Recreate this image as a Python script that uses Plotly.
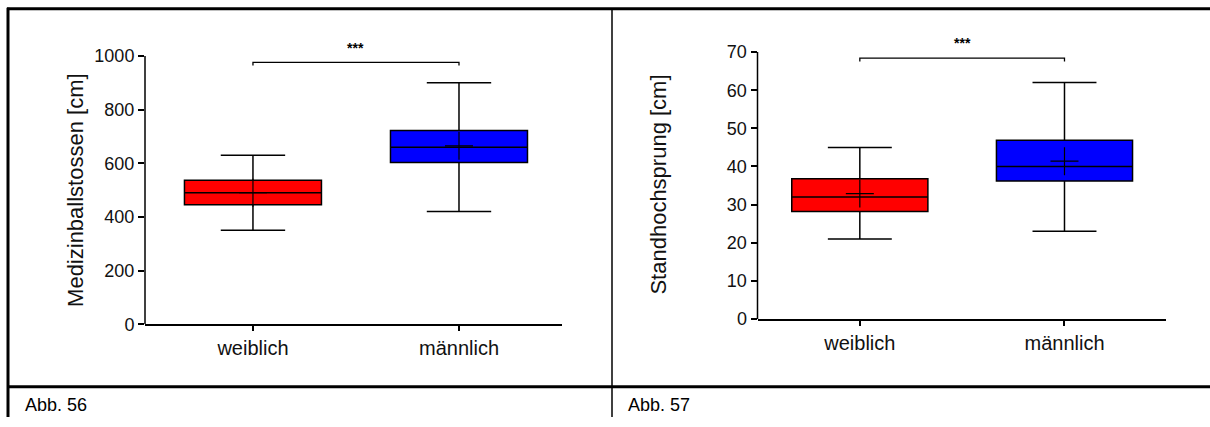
import plotly.graph_objects as go

# Groups shown on the x axis
groups = ["weiblich", "männlich"]
group_pos = [0, 1]
box_colors = ["#ff0000", "#0000ff"]

# Abb. 56 – Medizinballstossen [cm]
mb_q1 = [445, 603]
mb_median = [490, 660]
mb_q3 = [537, 722]
mb_min = [350, 420]
mb_max = [630, 900]
mb_mean = [490, 665]
mb_ticks = [0, 200, 400, 600, 800, 1000]
mb_bracket = 976
mb_star = 1030

# Abb. 57 – Standhochsprung [cm]
sh_q1 = [28.2, 36.2]
sh_median = [32.0, 40.0]
sh_q3 = [36.8, 46.9]
sh_min = [21.0, 23.0]
sh_max = [45.0, 62.0]
sh_mean = [32.9, 41.4]
sh_ticks = [0, 10, 20, 30, 40, 50, 60, 70]
sh_bracket = 68.4
sh_star = 72.3

W, H = 1210, 427
FONT = "Liberation Sans, Arial, sans-serif"


def px(x):
    return x / W


def py(y):
    return 1 - y / H


fig = go.Figure()


def add_panel(xref, yref, q1, med, q3, lo, hi, mean):
    for i in range(len(groups)):
        fig.add_trace(go.Box(
            x=[group_pos[i]], q1=[q1[i]], median=[med[i]], q3=[q3[i]],
            lowerfence=[lo[i]], upperfence=[hi[i]],
            fillcolor=box_colors[i], line=dict(color="black", width=1.5),
            width=0.665, whiskerwidth=0.47, boxpoints=False,
            showlegend=False, xaxis=xref, yaxis=yref, hoverinfo="skip",
        ))
    # mean shown as a plus sign
    fig.add_trace(go.Scatter(
        x=group_pos, y=mean, mode="markers", showlegend=False,
        marker=dict(symbol="cross-thin", size=20, color="black",
                    line=dict(color="black", width=1.2)),
        xaxis=xref, yaxis=yref, hoverinfo="skip",
    ))


add_panel("x", "y", mb_q1, mb_median, mb_q3, mb_min, mb_max, mb_mean)
add_panel("x2", "y2", sh_q1, sh_median, sh_q3, sh_min, sh_max, sh_mean)

xcommon = dict(
    tickvals=group_pos, ticktext=groups, showgrid=False, zeroline=False,
    showline=True, linecolor="black", linewidth=1.5,
    ticks="outside", ticklen=5, tickwidth=1.5, tickcolor="black",
    tickfont=dict(family=FONT, size=20, color="#111"), fixedrange=True,
)
ycommon = dict(
    showgrid=False, zeroline=False, showline=False,
    ticks="outside", ticklen=6, tickwidth=1.5, tickcolor="black",
    tickfont=dict(family=FONT, size=18, color="#111"), fixedrange=True,
)

fig.update_layout(
    width=W, height=H, autosize=False,
    margin=dict(l=0, r=0, t=0, b=0),
    paper_bgcolor="white", plot_bgcolor="white",
    xaxis=dict(domain=[px(145), px(562)], range=[-0.524, 1.5], anchor="y", **xcommon),
    yaxis=dict(domain=[py(332), py(29.8)], range=[0, 1100], anchor="x",
               tickvals=mb_ticks, **ycommon),
    xaxis2=dict(domain=[px(757.5), px(1166)], range=[-0.5, 1.496], anchor="y2", **xcommon),
    yaxis2=dict(domain=[py(326.7), py(29.9)], range=[0, 76], anchor="x2",
                tickvals=sh_ticks, **ycommon),
)

shapes = []
# y axis lines stop at the top tick
shapes.append(dict(type="line", xref="x domain", yref="y", x0=0, x1=0,
                   y0=0, y1=mb_ticks[-1], line=dict(color="black", width=1.5)))
shapes.append(dict(type="line", xref="x2 domain", yref="y2", x0=0, x1=0,
                   y0=0, y1=sh_ticks[-1], line=dict(color="black", width=1.5)))

# significance brackets
for xr, yr, yb, drop in (("x", "y", mb_bracket, 12), ("x2", "y2", sh_bracket, 0.9)):
    shapes.append(dict(type="path", xref=xr, yref=yr,
                       path=f"M {group_pos[0]},{yb - drop} L {group_pos[0]},{yb} "
                            f"L {group_pos[1]},{yb} L {group_pos[1]},{yb - drop}",
                       line=dict(color="black", width=1.3)))

# frame of the figure table
frame = dict(color="black", width=3)
shapes.append(dict(type="line", xref="paper", yref="paper", x0=px(7), x1=1,
                   y0=py(9), y1=py(9), line=frame))
shapes.append(dict(type="line", xref="paper", yref="paper", x0=px(8), x1=px(8),
                   y0=py(8), y1=0, line=frame))
shapes.append(dict(type="line", xref="paper", yref="paper", x0=px(7), x1=1,
                   y0=py(396), y1=py(396), line=frame))
shapes.append(dict(type="line", xref="paper", yref="paper", x0=px(612), x1=px(612),
                   y0=py(9), y1=0, line=dict(color="black", width=1.5)))
fig.update_layout(shapes=shapes)

annotations = [
    dict(text="<b>***</b>", xref="x", yref="y", x=0.5, y=mb_star, showarrow=False,
         font=dict(family=FONT, size=14, color="black")),
    dict(text="<b>***</b>", xref="x2", yref="y2", x=0.5, y=sh_star, showarrow=False,
         font=dict(family=FONT, size=14, color="black")),
    dict(text="Medizinballstossen [cm]", xref="paper", yref="paper",
         x=px(61), y=py(195), textangle=-90, showarrow=False,
         font=dict(family=FONT, size=22, color="#111")),
    dict(text="Standhochsprung [cm]", xref="paper", yref="paper",
         x=px(659), y=py(189), textangle=-90, showarrow=False,
         font=dict(family=FONT, size=22, color="#111")),
    dict(text="Abb. 56", xref="paper", yref="paper", x=px(23), y=py(415),
         xanchor="left", yanchor="middle", showarrow=False,
         font=dict(family=FONT, size=18, color="black")),
    dict(text="Abb. 57", xref="paper", yref="paper", x=px(626), y=py(415),
         xanchor="left", yanchor="middle", showarrow=False,
         font=dict(family=FONT, size=18, color="black")),
]
fig.update_layout(annotations=annotations)

fig.write_html("out.html")
